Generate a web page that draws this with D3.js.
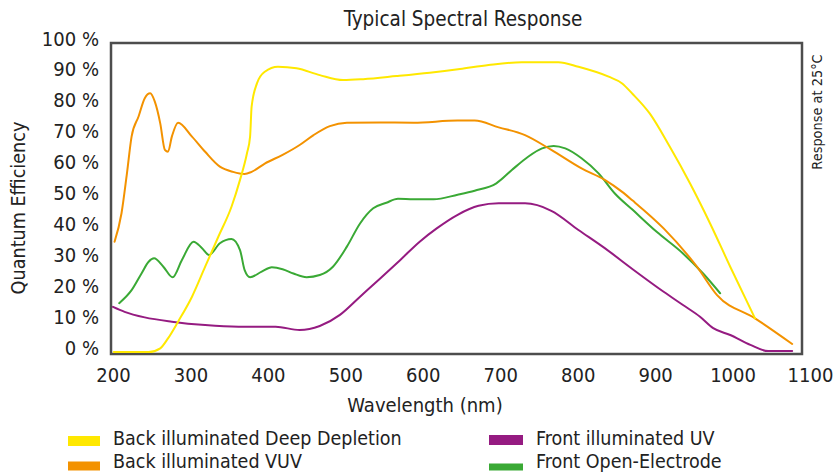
<!DOCTYPE html>
<html>
<head>
<meta charset="utf-8">
<script src="https://cdn.jsdelivr.net/npm/d3@7/dist/d3.min.js"></script>
<style>
  html, body { margin: 0; padding: 0; background: #fff; }
  svg { display: block; }
  text { fill: #222; }
</style>
</head>
<body>
<svg id="chart" width="835" height="475"></svg>
<script>
// ---- data (wavelength nm, quantum efficiency %) ----
const deepDepletionNm  = [201, 224, 246, 261, 271, 284, 302, 319, 336, 353, 364, 373, 377, 379, 386, 396, 413, 437, 467, 497, 523, 566, 609, 648, 685, 728, 775, 801, 840, 857, 871, 893, 919, 945, 971, 997, 1029];
const deepDepletionQE  = [0, 0, 0, 1.2, 4.4, 9.8, 17.9, 27.6, 37.3, 47, 55.7, 64.3, 69.7, 79.4, 87, 90.7, 92.3, 91.8, 89.6, 88, 88.3, 89.3, 90.4, 91.6, 92.9, 93.8, 93.8, 92.3, 89.1, 87, 83.5, 77.2, 66.4, 54.6, 41.6, 27.6, 10.9];

const vuvNm = [202, 211, 218, 224, 233, 241, 248, 254, 261, 267, 271, 276, 284, 302, 319, 338, 355, 370, 379, 396, 419, 441, 459, 480, 502, 545, 588, 645, 667, 698, 732, 766, 805, 835, 857, 871, 911, 954, 980, 1029, 1077];
const vuvQE = [35.7, 44.9, 57.8, 69.7, 76.2, 82.1, 83.7, 81, 74, 65.4, 64.8, 69.7, 74.2, 69.7, 64.8, 60, 58.3, 57.6, 58.3, 61, 63.8, 67, 70.2, 73.1, 74.2, 74.3, 74.2, 74.9, 74.9, 72.7, 70.2, 65.4, 59.4, 55.7, 51.9, 49, 40, 27.6, 18.4, 10.9, 2.6];

const frontUVNm = [200, 215, 241, 276, 319, 362, 410, 441, 467, 493, 519, 545, 571, 596, 618, 645, 672, 698, 732, 766, 801, 835, 871, 911, 936, 958, 975, 997, 1023, 1046, 1077];
const frontUVQE = [14.6, 13, 11.2, 9.8, 8.7, 8.2, 8.2, 7.1, 8.4, 12, 17.9, 23.8, 29.8, 35.7, 40, 44.4, 47.3, 48.1, 48.1, 45.7, 39.5, 33.6, 26.8, 19.5, 15.2, 11.4, 7.7, 5.5, 2.3, 0.3, 0.3];

const openElectrodeNm = [208, 224, 237, 246, 253, 265, 277, 289, 304, 315, 324, 338, 353, 364, 370, 377, 392, 405, 419, 433, 450, 467, 484, 502, 519, 536, 553, 568, 588, 614, 645, 667, 695, 715, 736, 754, 769, 784, 805, 827, 848, 871, 902, 936, 962, 984];
const openElectrodeQE = [15.8, 20, 25.5, 29.2, 30.3, 27.6, 24.2, 29.8, 35.7, 33.6, 31.4, 35.2, 36.6, 33, 26.5, 24.2, 26, 27.4, 26.8, 25.4, 24.2, 24.9, 27.6, 34.1, 41.6, 46.5, 48.3, 49.6, 49.4, 49.4, 50.9, 52.2, 54.6, 58.9, 63.2, 65.9, 66.7, 65.9, 62.7, 57.8, 51.3, 46, 38.9, 31.9, 25.4, 19];

const xTicks = [200, 300, 400, 500, 600, 700, 800, 900, 1000, 1100];
const yTicks = [0, 10, 20, 30, 40, 50, 60, 70, 80, 90, 100];

const seriesNames  = ["Back illuminated Deep Depletion", "Back illuminated VUV", "Front illuminated UV", "Front Open-Electrode"];
const seriesColors = ["#ffe800", "#f39200", "#951b81", "#3aa935"];

const titleText = "Typical Spectral Response";
const xTitle = "Wavelength (nm)";
const yTitle = "Quantum Efficiency";
const rightText = "Response at 25°C";

// ---- build ----
const series = [
  { name: seriesNames[0], color: seriesColors[0], nm: deepDepletionNm, qe: deepDepletionQE },
  { name: seriesNames[1], color: seriesColors[1], nm: vuvNm, qe: vuvQE },
  { name: seriesNames[2], color: seriesColors[2], nm: frontUVNm, qe: frontUVQE },
  { name: seriesNames[3], color: seriesColors[3], nm: openElectrodeNm, qe: openElectrodeQE }
];

const FONT = "'Liberation Sans Narrow', 'DejaVu Sans Condensed', sans-serif";
const svg = d3.select("#chart");

const frame = { left: 111, top: 43, right: 802, bottom: 354 };
const x = d3.scaleLinear().domain([200, 1100]).range([113, 810]);
const y = d3.scaleLinear().domain([0, 100]).range([352, 43]);

// frame
svg.append("rect")
  .attr("x", frame.left).attr("y", frame.top)
  .attr("width", frame.right - frame.left).attr("height", frame.bottom - frame.top)
  .attr("fill", "none").attr("stroke", "#4d4d4d").attr("stroke-width", 2.5);

// lines
const line = d3.line().curve(d3.curveMonotoneX);
const order = [2, 3, 1, 0];
order.forEach(i => {
  const s = series[i];
  const pts = s.nm.map((d, k) => [x(d), y(s.qe[k])]);
  svg.append("path")
    .attr("d", line(pts))
    .attr("fill", "none")
    .attr("stroke", s.color)
    .attr("stroke-width", 2)
    .attr("stroke-linejoin", "round")
    .attr("stroke-linecap", "round");
});

// y axis
const yAxis = svg.append("g")
  .attr("transform", `translate(${frame.left},0)`)
  .call(d3.axisLeft(y).tickValues(yTicks).tickFormat(d => d + " %").tickSize(0).tickPadding(12));
yAxis.select(".domain").remove();
yAxis.selectAll("text")
  .attr("font-family", FONT).attr("font-size", 20).attr("fill", "#222").attr("dy", "0.1em");

// x axis
const xAxis = svg.append("g")
  .attr("transform", `translate(0,${frame.bottom})`)
  .call(d3.axisBottom(x).tickValues(xTicks).tickFormat(d3.format("d")).tickSize(0).tickPadding(14));
xAxis.select(".domain").remove();
xAxis.selectAll("text")
  .attr("font-family", FONT).attr("font-size", 20).attr("fill", "#222");

// titles
svg.append("text").attr("x", 463).attr("y", 26).attr("text-anchor", "middle")
  .attr("font-family", FONT).attr("font-size", 20.5).text(titleText);
svg.append("text").attr("x", 425).attr("y", 412).attr("text-anchor", "middle")
  .attr("font-family", FONT).attr("font-size", 20).text(xTitle);
svg.append("text").attr("transform", "translate(25,208) rotate(-90)").attr("text-anchor", "middle")
  .attr("font-family", FONT).attr("font-size", 19.6).text(yTitle);
svg.append("text").attr("transform", "translate(822,112) rotate(-90)").attr("text-anchor", "middle")
  .attr("font-family", FONT).attr("font-size", 14.4).text(rightText);

// legend
const legendPos = [[68, 441, 32, 10, 113, 439], [68, 466, 32, 9, 113, 462], [489, 440, 34, 10, 536, 439], [489, 467, 34, 7, 536, 462]];
series.forEach((s, i) => {
  const [lx, ly, w, h, tx, ty] = legendPos[i];
  svg.append("rect").attr("x", lx).attr("y", ly - h / 2).attr("width", w).attr("height", h).attr("fill", s.color);
  svg.append("text").attr("x", tx).attr("y", ty).attr("dy", "0.33em")
    .attr("font-family", FONT).attr("font-size", 19.5).text(s.name);
});
</script>
</body>
</html>
